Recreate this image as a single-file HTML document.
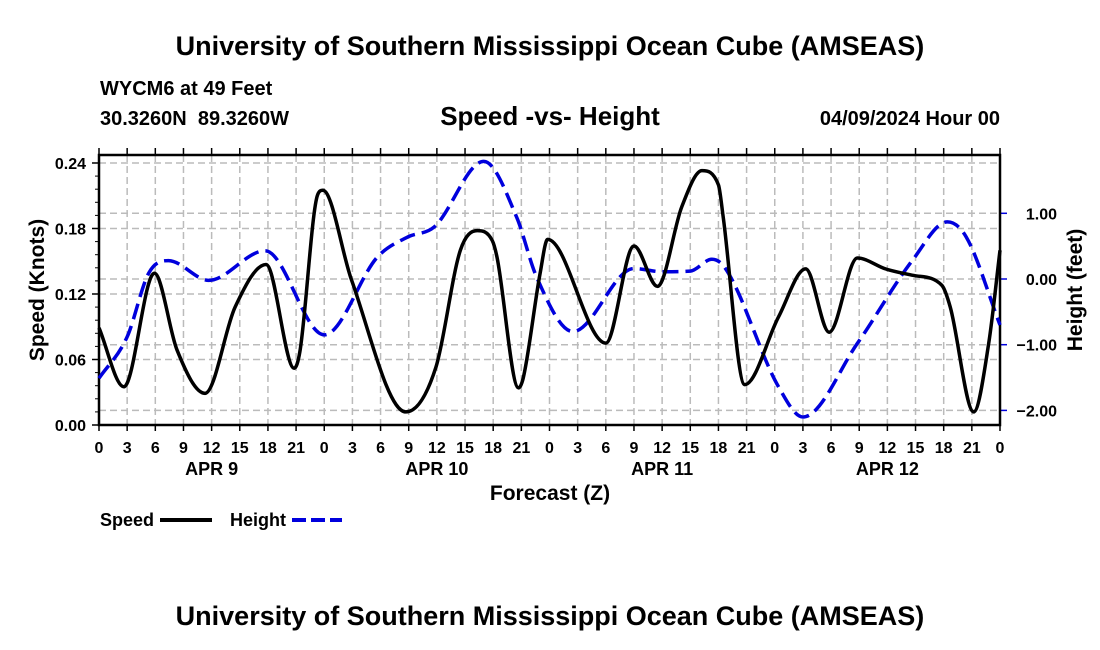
<!DOCTYPE html>
<html><head><meta charset="utf-8"><style>
body{margin:0;background:#fff;}
svg{display:block;font-family:"Liberation Sans",Arial,sans-serif;font-weight:bold;}
</style></head><body>
<svg id="chart" width="1100" height="650" viewBox="0 0 1100 650">
<text x="550" y="55" text-anchor="middle" font-size="27">University of Southern Mississippi Ocean Cube (AMSEAS)</text>
<text x="100" y="95" font-size="20">WYCM6 at 49 Feet</text>
<text x="100" y="125" font-size="20" xml:space="preserve">30.3260N  89.3260W</text>
<text x="550" y="125" text-anchor="middle" font-size="26">Speed -vs- Height</text>
<text x="1000" y="125" text-anchor="end" font-size="20">04/09/2024 Hour 00</text>
<g id="grid"></g>
<g id="axes"></g>
<g id="series"></g>
<text x="550" y="500" text-anchor="middle" font-size="21">Forecast (Z)</text>
<text transform="translate(44,290) rotate(-90)" text-anchor="middle" font-size="21">Speed (Knots)</text>
<text transform="translate(1082,290) rotate(-90)" text-anchor="middle" font-size="21">Height (feet)</text>
<g>
<text x="100" y="526" font-size="18">Speed</text>
<line x1="160" y1="520" x2="212" y2="520" stroke="#000" stroke-width="4"/>
<text x="230" y="526" font-size="18">Height</text>
<line x1="292" y1="520" x2="342" y2="520" stroke="#0000dd" stroke-width="4" stroke-dasharray="14,5"/>
</g>
<text x="550" y="625" text-anchor="middle" font-size="27">University of Southern Mississippi Ocean Cube (AMSEAS)</text>
</svg>
<script>
const speedHours=[0,2.65,5.9,8.3,11.3,14.5,17.8,20.8,21.4,23.3,23.85,26.9,32.7,35.9,38.5,40.3,41.9,42.4,44.7,45.2,47,47.8,54,57,59.5,62.1,64.25,66,66.5,68.8,72.4,75.3,77.8,80.8,83.8,86.8,89.8,90.7,93.2,94.8,96];
const speedValues=[0.089,0.035,0.139,0.069,0.029,0.108,0.147,0.052,0.067,0.211,0.215,0.133,0.012,0.053,0.160,0.178,0.169,0.154,0.034,0.043,0.139,0.170,0.075,0.164,0.127,0.200,0.233,0.220,0.191,0.037,0.099,0.143,0.085,0.153,0.143,0.137,0.128,0.108,0.012,0.075,0.160];
const heightHours=[0,3,5.3,7.4,11.7,17.7,24,29.7,32.9,35.7,41,44.5,46.6,50.5,57,60,63,65.3,66.7,72.4,75,80.8,86.7,90.4,92.4,96];
const heightValues=[-1.51,-0.88,0.09,0.28,-0.02,0.43,-0.85,0.34,0.64,0.79,1.79,0.94,0.04,-0.80,0.16,0.11,0.12,0.30,0.17,-1.64,-2.10,-0.98,0.29,0.87,0.64,-0.70];
const speedTicks=["0.00","0.06","0.12","0.18","0.24"];
const heightTicks=["-2.00","-1.00","0.00","1.00"];
const hourLabels=["0","3","6","9","12","15","18","21"];
const dayLabels=["APR 9","APR 10","APR 11","APR 12"];

const L=99,R=1000,T=155,B=425;
const xS=h=>L+(R-L)*h/96;
const yS=v=>B-v*1091.7;
const yH=f=>279-f*65.7;
const NS="http://www.w3.org/2000/svg";
function mk(tag,parent,attrs){const e=document.createElementNS(NS,tag);for(const k in attrs)e.setAttribute(k,attrs[k]);parent.appendChild(e);return e;}
const grid=document.getElementById('grid'),axes=document.getElementById('axes'),series=document.getElementById('series');
for(let i=1;i<32;i++){const l=mk('line',grid,{x1:xS(i*3),x2:xS(i*3),y1:T,y2:B,stroke:'#bbb','stroke-width':1.5,'stroke-dasharray':'7,4'});

}
speedTicks.forEach(t=>{const v=parseFloat(t);if(v>0){const l=mk('line',grid,{x1:L,x2:R,y1:yS(v),y2:yS(v),stroke:'#bbb','stroke-width':1.5,'stroke-dasharray':'7,4'});

}
const tx=mk('text',axes,{x:L-13,y:yS(v)+6,'text-anchor':'end','font-size':16});tx.textContent=t;


mk('line',axes,{x1:L-7,x2:L,y1:yS(v),y2:yS(v),stroke:'#000','stroke-width':1.5});});
for(let v=0.012;v<0.247;v+=0.012)mk('line',axes,{x1:L-4,x2:L,y1:yS(v),y2:yS(v),stroke:'#000','stroke-width':1});
heightTicks.forEach(t=>{const v=parseFloat(t);const l=mk('line',grid,{x1:L,x2:R,y1:yH(v),y2:yH(v),stroke:'#bbb','stroke-width':1.5,'stroke-dasharray':'7,4'});


mk('line',axes,{x1:R,x2:R+7,y1:yH(v),y2:yH(v),stroke:'#0000dd','stroke-width':1.5});
const tx=mk('text',axes,{x:1057,y:yH(v)+6,'text-anchor':'end','font-size':16});tx.textContent=t.replace('-','\u2212');

});
for(let i=0;i<=32;i++){const x=xS(i*3);
mk('line',axes,{x1:x,x2:x,y1:B,y2:B+6,stroke:'#000','stroke-width':1.5});
mk('line',axes,{x1:x,x2:x,y1:T-7,y2:T,stroke:'#000','stroke-width':1.5});
const tx=mk('text',axes,{x:x,y:453,'text-anchor':'middle','font-size':16});tx.textContent=hourLabels[i%8];

}
dayLabels.forEach((d,i)=>{const tx=mk('text',axes,{x:xS(i*24+12),y:475,'text-anchor':'middle','font-size':18});tx.textContent=d;

});
mk('rect',axes,{x:L,y:T,width:R-L,height:B-T,fill:'none',stroke:'#000','stroke-width':2.5});
function path(hs,vs,ys){
  const x=hs.map(xS),y=vs.map(ys),n=x.length;
  const d=[],m=new Array(n);
  for(let i=0;i<n-1;i++)d.push((y[i+1]-y[i])/(x[i+1]-x[i]));
  m[0]=d[0];m[n-1]=d[n-2];
  for(let i=1;i<n-1;i++)m[i]=(d[i-1]*d[i]<=0)?0:(d[i-1]+d[i])/2;
  for(let i=0;i<n-1;i++){if(d[i]===0){m[i]=0;m[i+1]=0;continue;}const a=m[i]/d[i],b=m[i+1]/d[i],s=a*a+b*b;if(s>9){const t=3/Math.sqrt(s);m[i]=t*a*d[i];m[i+1]=t*b*d[i];}}
  let p='M'+x[0]+','+y[0];
  for(let i=0;i<n-1;i++){const h=(x[i+1]-x[i])/3;p+=` C${x[i]+h},${y[i]+m[i]*h} ${x[i+1]-h},${y[i+1]-m[i+1]*h} ${x[i+1]},${y[i+1]}`;}
  return p;}
const hp=mk('path',series,{d:path(heightHours,heightValues,yH),fill:'none',stroke:'#0000dd','stroke-width':3.5,'stroke-dasharray':'16,7'});


const sp=mk('path',series,{d:path(speedHours,speedValues,yS),fill:'none',stroke:'#000','stroke-width':3.5,'stroke-linejoin':'round'});


</script>
</body></html>
